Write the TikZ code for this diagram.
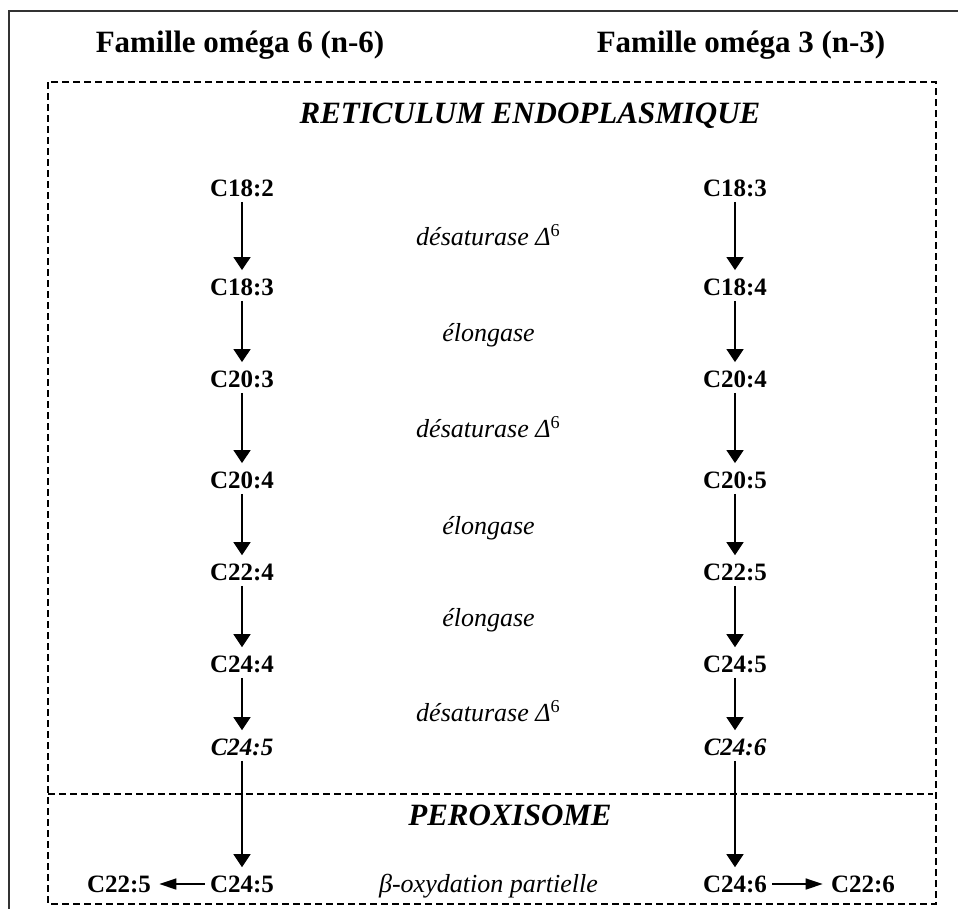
\documentclass[tikz,border=0pt]{standalone}
\usepackage{fontspec}
\setmainfont{Liberation Serif}
\usetikzlibrary{arrows.meta,positioning,calc}

\begin{document}
\begin{tikzpicture}[x=0.5pt,y=0.5pt,>={Triangle[length=6.5pt,width=8.5pt]},shorten >=1.5pt,node distance=46pt,
    acide/.style={font=\fontsize{12.5}{15}\selectfont\bfseries,inner sep=2.5pt},
    acideit/.style={acide,font=\fontsize{12.5}{15}\selectfont\bfseries\itshape},
    enzyme/.style={font=\fontsize{13}{15}\selectfont\itshape,anchor=base},
    titre/.style={font=\fontsize{15.5}{18}\selectfont\bfseries,anchor=base},
    zone/.style={font=\fontsize{15.5}{18}\selectfont\bfseries\itshape,anchor=base},
    face/.style={node distance=246.5pt,right of=#1},
    fleche/.style={->,line width=0.7pt},
    flechecourte/.style={-{Triangle[length=8.5pt,width=5.5pt]},line width=0.8pt},
    membrane/.style={dash pattern=on 3.5pt off 2pt,line width=1pt}]
      \useasboundingbox (0,0) rectangle (958,-912);

      % cadres
      \draw[black!80,line width=1.2pt] (958,-11) -- (9,-11) -- (9,-912);
      \draw[membrane] (48,-82) rectangle (936,-904);
      \draw[membrane] (48,-794) -- (936,-794);

      \node[titre] (t6) at (240,-52) {Famille oméga 6 (n-6)};
      \node[titre] (t3) at (741,-52) {Famille oméga 3 (n-3)};
      \node[zone] (re) at (530,-123) {RETICULUM ENDOPLASMIQUE};
      \node[zone] (px) at (510,-825) {PEROXISOME};

      % omega 6
      \node[acide] (g182) at (242,-188) {C18:2};
      \node[acide,node distance=49.5pt] (g183) [below of=g182] {C18:3};
      \node[acide] (g203) [below of=g183] {C20:3};
      \node[acide,node distance=50.5pt] (g204) [below of=g203] {C20:4};
      \node[acide] (g224) [below of=g204] {C22:4};
      \node[acide] (g244) [below of=g224] {C24:4};
      \node[acideit,node distance=41.5pt] (g245) [below of=g244] {C24:5};
      \node[acide,node distance=68.5pt] (p245) [below of=g245] {C24:5};
      \node[acide,node distance=61.5pt] (p225) [left of=p245] {C22:5};

      % omega 3
      \node[acide] (o183) [face=g182] {C18:3};
      \node[acide] (o184) [face=g183] {C18:4};
      \node[acide] (o204) [face=g203] {C20:4};
      \node[acide] (o205) [face=g204] {C20:5};
      \node[acide] (o225) [face=g224] {C22:5};
      \node[acide] (o245) [face=g244] {C24:5};
      \node[acideit] (o246) [face=g245] {C24:6};
      \node[acide] (p246) [face=p245] {C24:6};
      \node[acide,node distance=64pt] (p226) [right of=p246] {C22:6};

      % enzymes
      \node[enzyme] (d1) at ($(g182.base)!.5!(o184.base)$) {désaturase Δ\textsuperscript{\upshape 6}};
      \node[enzyme] (e1) at ($(g183.base)!.5!(o204.base)$) {élongase};
      \node[enzyme] (d2) at ($(g203.base)!.5!(o205.base)$) {désaturase Δ\textsuperscript{\upshape 6}};
      \node[enzyme] (e2) at ($(g204.base)!.5!(o225.base)$) {élongase};
      \node[enzyme] (e3) at ($(g224.base)!.5!(o245.base)$) {élongase};
      \node[enzyme,yshift=-4pt] (d3) at ($(g244.base)!.5!(o246.base)$) {désaturase Δ\textsuperscript{\upshape 6}};
      \node[enzyme] (bo) at ($(p245.base)!.5!(p246.base)$) {β-oxydation partielle};

      \path[fleche]
      (g182) edge (g183)
      (g183) edge (g203)
      (g203) edge (g204)
      (g204) edge (g224)
      (g224) edge (g244)
      (g244) edge (g245)
      (g245) edge (p245)

      (o183) edge (o184)
      (o184) edge (o204)
      (o204) edge (o205)
      (o205) edge (o225)
      (o225) edge (o245)
      (o245) edge (o246)
      (o246) edge (p246)
      ;
      \path[flechecourte]
      (p245) edge (p225)
      (p246) edge (p226)
      ;
    \end{tikzpicture}
\end{document}
